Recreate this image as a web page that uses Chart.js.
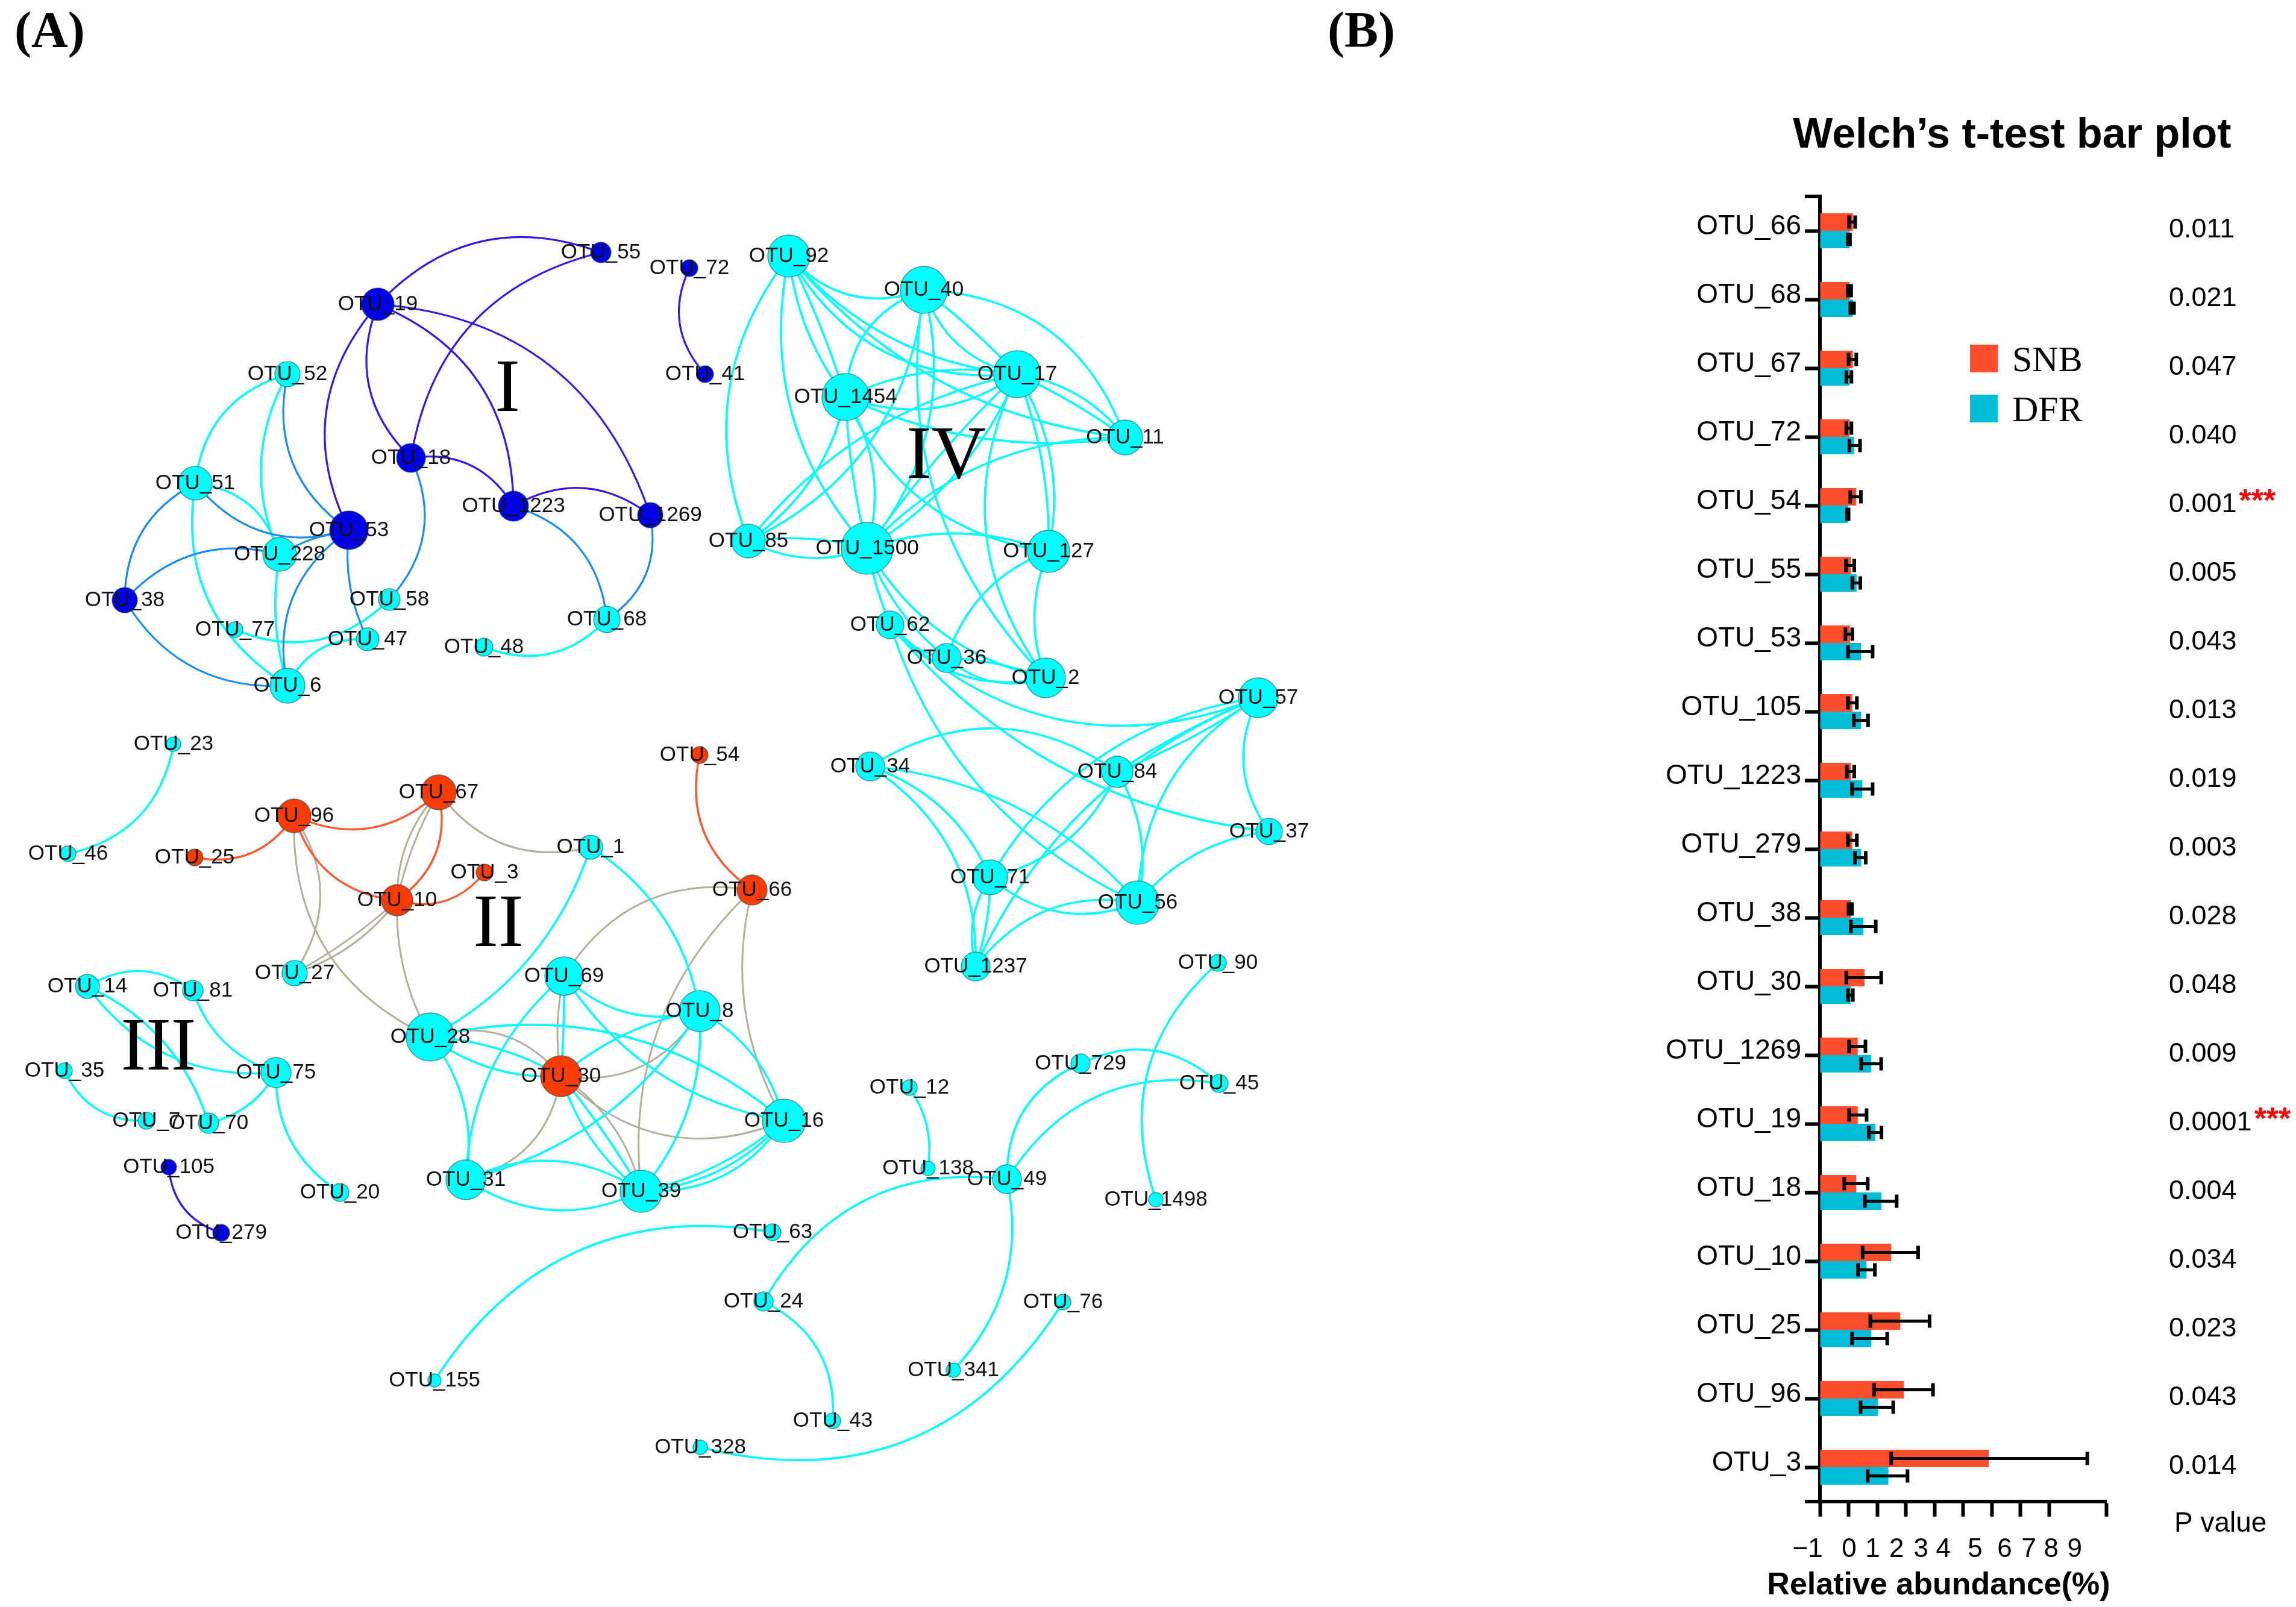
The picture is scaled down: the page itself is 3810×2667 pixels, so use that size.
<!DOCTYPE html>
<html>
<head>
<meta charset="utf-8">
<title>OTU network and Welch's t-test</title>
<script src="https://cdn.jsdelivr.net/npm/chart.js@4"></script>
<style>
    body { margin: 0; background: #fff; }
    #netBox { position: absolute; left: 0; top: 0; }
    #barBox { position: absolute; left: 2700px; top: 0; }
</style>
</head>
<body>
<div id="netBox"><canvas id="netChart" width="2700" height="2667"></canvas></div>
<div id="barBox"><canvas id="barChart" width="1110" height="2667"></canvas></div>
<script>
// ---- network: nodes
var nodeIds = ['19','55','72','41','52','18','51','1223','1269','53','228','38','58','77','47','48','68','6',
    '92','40','17','1454','11','85','1500','127','62','36','2','57','34','84','37','71','56','1237','90',
    '23','54','67','96','46','25','1','3','66','10','27','69','8','14','81','28','35','75','30','7','70','16','105','20','31','39','279','63',
    '12','138','49','729','45','1498','24','76','155','341','43','328'];
var nodeX = [627,997,1144,1170,477,682,324,852,1079,579,464,207,646,390,610,803,1007,477,
    1309,1533,1688,1403,1867,1242,1439,1740,1477,1571,1735,2088,1444,1854,2106,1643,1888,1619,2021,
    288,1161,728,488,113,323,980,804,1248,659,489,936,1161,145,320,714,107,458,931,243,346,1301,280,564,773,1064,367,1282,
    1509,1540,1671,1793,2023,1918,1267,1764,721,1582,1382,1162];
var nodeY = [505,419,445,621,621,760,802,840,855,880,920,996,995,1045,1061,1074,1028,1138,
    425,481,621,659,726,898,910,915,1037,1092,1125,1158,1272,1281,1380,1456,1498,1604,1598,
    1235,1253,1315,1354,1417,1423,1406,1448,1477,1494,1615,1620,1678,1637,1644,1721,1777,1780,1786,1860,1864,1860,1937,1979,1958,1977,2046,2045,
    1805,1939,1957,1765,1798,1991,2160,2161,2291,2274,2358,2402];
var nodeSize = [27,17,14,14,21,24,28,25,21,32,28,21,18,13,19,15,22,29,
    35,39,39,39,29,28,43,35,23,24,33,33,24,26,22,29,36,24,14,
    12,14,29,28,13,14,20,14,25,26,21,32,34,20,17,40,13,25,34,14,17,36,13,15,33,35,14,14,
    13,12,24,16,15,12,16,13,11,12,13,12];
var blueNodes = ['19','55','72','41','18','1223','1269','53','38','105','279'];
var orangeNodes = ['67','96','25','54','3','66','10','30'];

// ---- network: edges, [from, to, bend]; the arc bulges to the left of from->to
var edgesIndigo = [['19','55'],['18','55'],['53','19'],['18','19'],['19','1223'],['19','1269'],['18','1223'],['1223','1269'],['41','72'],['279','105']];
var edgesBlue = [['53','52'],['18','58'],['47','53',.15],['6','53'],['53','51'],['38','51',.3],['38','228',.3],['228','53',.1],['6','38',.3],['1223','68'],['1269','68']];
var edgesOrange = [['96','25'],['67','96'],['10','96'],['67','10'],['3','10'],['66','54']];
var edgesTan = [['1','67'],['10','67',.2],['10','67',.08],['96','27'],['28','96'],['10','27',.16],['10','27',.06],['28','10',.14],
    ['69','66'],['39','66',.25],['16','66',.2],['30','69',.1],['28','30'],['8','30'],['30','31'],['30','39',.2],['16','30']];
var edgesCyan = [['51','52'],['228','52',.25],['51','228'],['6','51'],['6','228',.12],['58','77'],['6','47'],['68','48'],
    ['85','92',.28],['1500','92',.25],['1454','92',.14],['92','1454',.04],['40','92'],['17','92',.2],['17','92',.32],['11','92',.2],
    ['1454','40'],['2','40',.25],['40','85',.28],['40','1500',.25],['17','40',.28],['40','17',.04],['40','11'],['1454','17',.16],['17','1454',.26],
    ['17','11',.2],['17','11',.05],['11','1454',.15],['1454','85',.2],['1500','1454',.05],['1454','1500',.22],['127','1454',.28],
    ['17','1500',.16],['1500','17',.05],['85','17',.18],['1500','11',.22],['17','127',.2],['17','127',.1],['2','17',.3],
    ['85','1500',.1],['1500','85',.22],['1500','127',.18],['2','1500',.22],['36','1500',.14],['62','1500',.05],['36','127',.24],['2','127',.2],
    ['36','62',.2],['2','62',.3],['2','36',.28],['36','2',.08],['57','62',.32],['56','62',.22],['37','62',.2],
    ['34','84'],['34','71',.22],['34','1237',.28],['71','57',.24],['1237','57',.2],['84','57',.05],['57','84',.05],['56','57',.28],['37','57',.3],
    ['84','56',.2],['84','71',.25],['56','37',.2],['56','71',.3],['1237','71',.22],['71','1237',.08],['1237','56',.3],['34','56',.2],
    ['23','46'],['14','81'],['14','70',.22],['75','14',.28],['75','81',.25],['7','35'],['75','70',.22],['20','75',.28],
    ['1','28',.2],['1','8',.22],['31','69',.22],['8','69',.28],['69','30',.02],['16','69',.22],['28','16',.25],['28','30',.12],['30','28',.18],
    ['30','8',.14],['8','16',.22],['8','31',.2],['8','39',.2],['39','30',.16],['30','39',.04],['31','39',.28],['39','31',.28],
    ['16','39',.28],['16','39',.2],['16','39',.13],['28','31',.22],
    ['155','63'],['24','49'],['24','43'],['12','138',.2],['49','729'],['49','45'],['729','45'],['49','341',.26],['1498','90'],['76','328',.36]];

// ---- bar plot
var otuLabels = ['OTU_66','OTU_68','OTU_67','OTU_72','OTU_54','OTU_55','OTU_53','OTU_105','OTU_1223','OTU_279','OTU_38','OTU_30','OTU_1269','OTU_19','OTU_18','OTU_10','OTU_25','OTU_96','OTU_3'];
var snbValues = [.15,.03,.15,.03,.27,.08,.05,.13,.08,.13,.08,.56,.32,.32,.27,1.49,1.8,1.93,4.9];
var dfrValues = [.03,.15,.03,.19,-.01,.28,.44,.44,.48,.44,.52,.08,.79,.94,1.15,.63,.79,1.03,1.39];
var snbErrLow = [.02,-.03,0,-.08,.06,-.09,-.11,-.02,-.06,-.02,0,-.08,.02,.02,-.15,.49,.76,.89,1.49];
var snbErrHigh = [.23,.09,.27,.1,.43,.2,.13,.29,.2,.29,.12,1.14,.59,.63,.67,2.43,2.83,2.95,8.34];
var dfrErrLow = [-.03,.06,-.08,.03,-.05,.13,-.02,.18,.12,.22,.08,-.02,.44,.71,.57,.33,.12,.42,.67];
var dfrErrHigh = [.05,.19,.1,.4,0,.41,.84,.68,.84,.6,.95,.15,1.14,1.15,1.68,.92,1.35,1.56,2.06];
var pValues = ['0.011','0.021','0.047','0.040','0.001','0.005','0.043','0.013','0.019','0.003','0.028','0.048','0.009','0.0001','0.004','0.034','0.023','0.043','0.014'];
var pStars = ['','','','','***','','','','','','','','','***','','','','',''];
var xTickLabels = ['\u22121','0','1','2','3','4','5','6','7','8','9'];
// the printed x labels sit off their ticks in the original, in axis units
var xTickLabelAt = [-1.43,.02,.84,1.68,2.53,3.31,4.42,5.45,6.3,7.08,7.9];

var SANS = '"Liberation Sans", Arial, sans-serif';
var SERIF = '"Liberation Serif", "Times New Roman", serif';

function nodeColor(id) {
    if (blueNodes.indexOf(id) >= 0) return '#0000e0';
    if (orangeNodes.indexOf(id) >= 0) return '#fb3c06';
    return '#00ffff';
}

var edgeGroups = [
    { list: edgesTan, color: '#b3af9c', width: 3 },
    { list: edgesCyan, color: '#0ff', width: 3.6 },
    { list: edgesBlue, color: '#1a8cf8', width: 3.2 },
    { list: edgesIndigo, color: '#3418ec', width: 3.2 },
    { list: edgesOrange, color: '#ff5a30', width: 3.4 }
];

var edgePlugin = {
    id: 'edges',
    beforeDatasetsDraw: function (chart) {
        var ctx = chart.ctx, sx = chart.scales.x, sy = chart.scales.y;
        ctx.save();
        edgeGroups.forEach(function (g) {
            ctx.strokeStyle = g.color;
            ctx.lineWidth = g.width;
            g.list.forEach(function (e) {
                var a = nodeIds.indexOf(e[0]), b = nodeIds.indexOf(e[1]);
                var bend = e.length > 2 ? e[2] : .33;
                var x0 = sx.getPixelForValue(nodeX[a]), y0 = sy.getPixelForValue(nodeY[a]);
                var x1 = sx.getPixelForValue(nodeX[b]), y1 = sy.getPixelForValue(nodeY[b]);
                var cx = (x0 + x1) / 2 + (y1 - y0) * bend;
                var cy = (y0 + y1) / 2 - (x1 - x0) * bend;
                ctx.beginPath();
                ctx.moveTo(x0, y0);
                ctx.quadraticCurveTo(cx, cy, x1, y1);
                ctx.stroke();
            });
        });
        ctx.restore();
    }
};

var nodeLabelPlugin = {
    id: 'nodeLabels',
    afterDatasetsDraw: function (chart) {
        var ctx = chart.ctx, sx = chart.scales.x, sy = chart.scales.y;
        var pts = chart.getDatasetMeta(0).data;
        ctx.save();
        ctx.fillStyle = '#111';
        ctx.font = '35px ' + SANS;
        ctx.textAlign = 'center';
        ctx.textBaseline = 'middle';
        pts.forEach(function (p, i) {
            ctx.fillText('OTU_' + nodeIds[i], p.x, p.y);
        });
        // panel letter and module numerals
        ctx.fillStyle = '#000';
        ctx.font = 'bold 84px ' + SERIF;
        ctx.textAlign = 'left';
        ctx.fillText('(A)', 24, 56);
        ctx.font = '125px ' + SERIF;
        ctx.textAlign = 'center';
        ctx.fillText('I', sx.getPixelForValue(842), sy.getPixelForValue(649));
        ctx.fillText('II', sx.getPixelForValue(827), sy.getPixelForValue(1537));
        ctx.fillText('III', sx.getPixelForValue(263), sy.getPixelForValue(1742));
        ctx.fillText('IV', sx.getPixelForValue(1570), sy.getPixelForValue(760));
        // (B) sits left of the bar chart box
        ctx.font = 'bold 84px ' + SERIF;
        ctx.textAlign = 'left';
        ctx.fillText('(B)', 2203, 56);
        ctx.restore();
    }
};

new Chart(document.getElementById('netChart').getContext('2d'), {
    type: 'bubble',
    data: {
        datasets: [{
            label: 'OTU',
            data: nodeIds.map(function (id, i) { return { x: nodeX[i], y: nodeY[i], r: nodeSize[i] }; }),
            backgroundColor: nodeIds.map(nodeColor),
            borderColor: 'rgba(0,70,70,.55)',
            borderWidth: 1.5,
            clip: false
        }]
    },
    options: {
        responsive: false,
        animation: false,
        devicePixelRatio: 1,
        layout: { padding: 0, autoPadding: false },
        plugins: { legend: { display: false }, tooltip: { enabled: false } },
        scales: {
            x: { type: 'linear', min: 0, max: 2700, display: false },
            y: { type: 'linear', min: 0, max: 2667, reverse: true, display: false }
        }
    },
    plugins: [edgePlugin, nodeLabelPlugin]
});

var errorBarPlugin = {
    id: 'errorBars',
    afterDatasetsDraw: function (chart) {
        var ctx = chart.ctx, sx = chart.scales.x;
        var lows = [snbErrLow, dfrErrLow], highs = [snbErrHigh, dfrErrHigh];
        ctx.save();
        ctx.strokeStyle = '#000';
        [0, 1].forEach(function (d) {
            chart.getDatasetMeta(d).data.forEach(function (bar, i) {
                var x0 = sx.getPixelForValue(lows[d][i]), x1 = sx.getPixelForValue(highs[d][i]);
                ctx.lineWidth = 5;
                ctx.beginPath();
                ctx.moveTo(x0, bar.y);
                ctx.lineTo(x1, bar.y);
                ctx.stroke();
                ctx.lineWidth = 6;
                ctx.beginPath();
                ctx.moveTo(x0, bar.y - 11);
                ctx.lineTo(x0, bar.y + 11);
                ctx.moveTo(x1, bar.y - 11);
                ctx.lineTo(x1, bar.y + 11);
                ctx.stroke();
            });
        });
        ctx.restore();
    }
};

var barTextPlugin = {
    id: 'barTexts',
    afterDraw: function (chart) {
        var ctx = chart.ctx, sx = chart.scales.x, sy = chart.scales.y, area = chart.chartArea;
        ctx.save();
        ctx.fillStyle = '#000';
        ctx.textBaseline = 'middle';

        // end ticks of the y axis
        ctx.strokeStyle = '#000';
        ctx.lineWidth = 6;
        ctx.beginPath();
        ctx.moveTo(area.left - 25, area.top);
        ctx.lineTo(area.left, area.top);
        ctx.moveTo(area.left - 25, area.bottom);
        ctx.lineTo(area.left, area.bottom);
        ctx.stroke();

        // title
        ctx.font = 'bold 70px ' + SANS;
        ctx.textAlign = 'center';
        ctx.fillText('Welch\u2019s t-test bar plot', 639, 226);

        // x tick labels and axis title
        ctx.font = '44px ' + SANS;
        xTickLabels.forEach(function (t, i) {
            ctx.fillText(t, sx.getPixelForValue(xTickLabelAt[i]), 2572);
        });
        ctx.font = 'bold 52px ' + SANS;
        ctx.fillText('Relative abundance(%)', 517, 2632);

        // legend
        chart.data.datasets.forEach(function (ds, i) {
            var y = 572 + i * 83;
            ctx.fillStyle = ds.backgroundColor;
            ctx.fillRect(569, y, 46, 46);
            ctx.fillStyle = '#000';
            ctx.font = '60px ' + SERIF;
            ctx.textAlign = 'left';
            ctx.fillText(ds.label, 639, y + 28);
        });

        // p values
        pValues.forEach(function (p, i) {
            var y = sy.getPixelForValue(i) - 1;
            ctx.fillStyle = '#000';
            ctx.font = '45px ' + SANS;
            ctx.textAlign = 'left';
            ctx.fillText(p, 899, y);
            if (pStars[i]) {
                var w = ctx.measureText(p).width;
                ctx.fillStyle = '#f00';
                ctx.font = 'bold 52px ' + SANS;
                ctx.fillText(pStars[i], 899 + w + 4, y - 4);
            }
        });
        ctx.fillStyle = '#000';
        ctx.font = '46px ' + SANS;
        ctx.fillText('P value', 908, 2529);
        ctx.restore();
    }
};

new Chart(document.getElementById('barChart').getContext('2d'), {
    type: 'bar',
    data: {
        labels: otuLabels,
        datasets: [
            { label: 'SNB', data: snbValues, backgroundColor: '#ff4d2e', base: -1 },
            { label: 'DFR', data: dfrValues, backgroundColor: '#00bcd6', base: -1 }
        ]
    },
    options: {
        indexAxis: 'y',
        responsive: false,
        animation: false,
        devicePixelRatio: 1,
        layout: { padding: { top: 326, right: 315, left: 0, bottom: 0 } },
        datasets: { bar: { categoryPercentage: .51, barPercentage: 1 } },
        plugins: { legend: { display: false }, tooltip: { enabled: false } },
        scales: {
            x: {
                type: 'linear', min: -1, max: 9,
                afterFit: function (scale) { scale.height = 175; },
                ticks: { stepSize: 1, display: false },
                grid: {
                    drawOnChartArea: false, drawTicks: true, tickLength: 25, tickWidth: 6,
                    tickColor: function (c) { return c.tick && c.tick.value === 8 ? 'rgba(0,0,0,0)' : '#000'; }
                },
                border: { color: '#000', width: 6 }
            },
            y: {
                type: 'category',
                afterFit: function (scale) { scale.width = 320; },
                ticks: {
                    autoSkip: false, color: '#000', padding: 6, labelOffset: -7,
                    font: { family: SANS, size: 46 }
                },
                grid: { offset: false, drawOnChartArea: false, tickLength: 25, tickWidth: 6, tickColor: '#000' },
                border: { color: '#000', width: 6 }
            }
        }
    },
    plugins: [errorBarPlugin, barTextPlugin]
});
</script>
</body>
</html>
